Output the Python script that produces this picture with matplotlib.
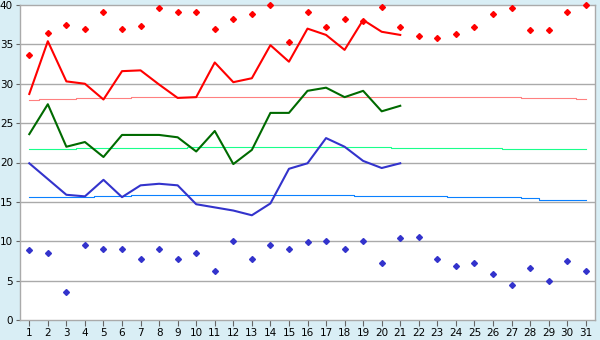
import numpy as np
import matplotlib.pyplot as plt

# --- Données ---
days = list(range(1, 32))
days_obs = list(range(1, 22))

t_max_mean = [28.7, 35.4, 30.3, 30.0, 28.0, 31.6, 31.7, 29.9, 28.2, 28.3,
              32.7, 30.2, 30.7, 34.9, 32.8, 37.0, 36.2, 34.3, 38.1, 36.6, 36.2]
t_mean = [23.6, 27.4, 22.0, 22.6, 20.7, 23.5, 23.5, 23.5, 23.2, 21.4,
          24.0, 19.8, 21.6, 26.3, 26.3, 29.1, 29.5, 28.3, 29.1, 26.5, 27.2]
t_min_mean = [19.9, 17.9, 15.9, 15.7, 17.8, 15.6, 17.1, 17.3, 17.1, 14.7,
              14.3, 13.9, 13.3, 14.8, 19.2, 19.9, 23.1, 22.0, 20.2, 19.3, 19.9]

rec_max = [33.6, 36.4, 37.4, 37.0, 39.1, 37.0, 37.3, 39.6, 39.1, 39.1,
           37.0, 38.2, 38.9, 40.0, 35.3, 39.1, 37.2, 38.2, 38.0, 39.8,
           37.2, 36.1, 35.8, 36.3, 37.2, 38.9, 39.6, 36.8, 36.8, 39.1, 40.0]
rec_min = [8.85, 8.5, 3.6, 9.5, 9.0, 9.0, 7.8, 9.0, 7.8, 8.5,
           6.2, 10.0, 7.8, 9.5, 9.0, 9.9, 10.0, 9.0, 10.0, 7.2,
           10.4, 10.5, 7.8, 6.8, 7.2, 5.8, 4.5, 6.6, 5.0, 7.5, 6.2]

norm_max = [27.9, 28.1, 28.1, 28.2, 28.2, 28.2] + [28.3] * 21 + [28.2] * 3 + [28.1]
norm_mean = [21.7] * 3 + [21.8] * 6 + [22.0] * 11 + [21.8] * 6 + [21.7] * 5
norm_min = [15.6] * 4 + [15.7] * 2 + [15.9] * 12 + [15.8] * 3 + [15.7] * 2 \
    + [15.6] * 4 + [15.45] + [15.3] * 2 + [15.2]

# --- Figure ---
bg = '#d9eef5'
grid_col = '#aaaaaa'
fig = plt.figure(figsize=(6, 3.4), dpi=100, facecolor=bg)
ax = fig.add_axes([20 / 600, 20 / 340, 575 / 600, 315 / 340])
ax.set_facecolor('white')

ax.set_xlim(0.5, 31.5)
ax.set_ylim(0, 40)

# Grille horizontale
for y in range(5, 40, 5):
    ax.axhline(y, color=grid_col, linewidth=1, zorder=0)

# Normales (en escalier)
ax.step(days, norm_max, where='mid', color='#ff8080', linewidth=0.8, zorder=2)
ax.step(days, norm_mean, where='mid', color='#19ff8c', linewidth=0.8, zorder=2)
ax.step(days, norm_min, where='mid', color='#0a80ff', linewidth=0.8, zorder=2)

# Courbes observées
ax.plot(days_obs, t_max_mean, color='#ff0000', linewidth=1.5, zorder=3)
ax.plot(days_obs, t_mean, color='#006a00', linewidth=1.5, zorder=3)
ax.plot(days_obs, t_min_mean, color='#3333cc', linewidth=1.5, zorder=3)

# Records
ax.plot(days, rec_max, linestyle='none', marker='D', markersize=3,
        color='#ff0000', zorder=4, clip_on=False)
ax.plot(days, rec_min, linestyle='none', marker='D', markersize=3,
        color='#3333cc', zorder=4, clip_on=False)

# Axes
for s in ax.spines.values():
    s.set_color(grid_col)
    s.set_linewidth(1)

ax.set_xticks(days)
ax.set_xticklabels([str(d) for d in days])
ax.set_yticks(range(0, 41, 5))
ax.tick_params(axis='x', length=4, color='#666666', labelsize=7.5, pad=2)
ax.tick_params(axis='y', length=3, color='#666666', labelsize=7.5, pad=2)

fig.savefig('out.png', dpi=100, facecolor=bg)
